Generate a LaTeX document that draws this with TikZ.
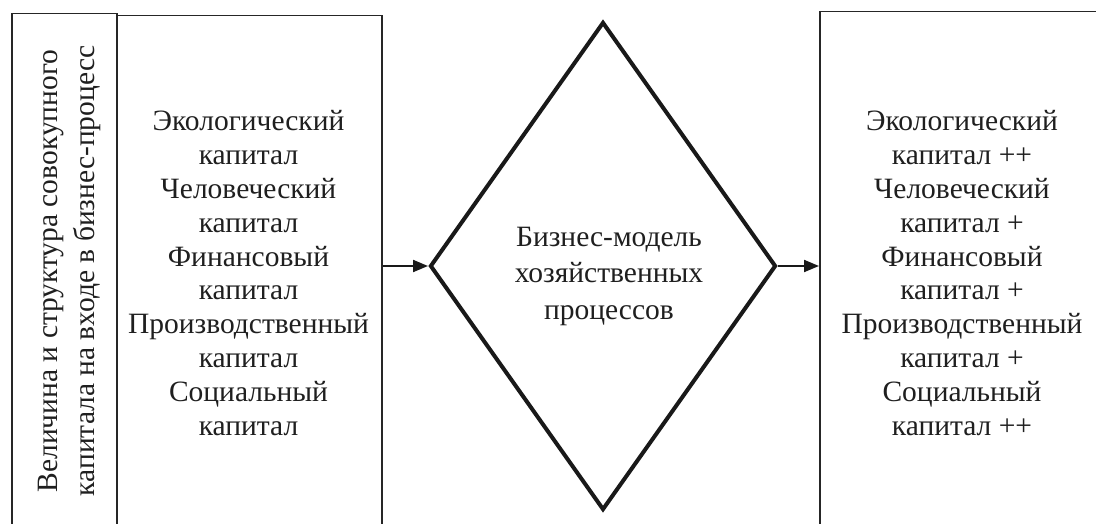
\documentclass[tikz,border=0pt]{standalone}
\usepackage{fontspec}
\setmainfont{Liberation Serif}
\usetikzlibrary{shapes.geometric,arrows.meta}
\begin{document}
\begin{tikzpicture}[x=1pt,y=-1pt,
  box/.style={draw=black!85, line width=1.5pt, rectangle, inner sep=0pt, anchor=north west},
  txt/.style={font=\fontsize{29.5}{33.9}\selectfont, align=center, inner sep=0pt, text=black!88},
  link/.style={line width=2pt, draw=black!90, -{Triangle[length=15pt,width=12pt]}},
]
\useasboundingbox (0,0) rectangle (1096,524);
\fill[white] (0,0) rectangle (1096,524);
\begin{scope}
\clip (0,0) rectangle (1096,524);
\node[box, minimum width=105pt, minimum height=540pt] (side) at (11,13) {};
\node[box, minimum width=265pt, minimum height=540pt] (inbox) at (116,15) {};
\node[box, minimum width=320pt, minimum height=540pt] (outbox) at (819,11) {};
\end{scope}
\node[txt, rotate=90, font=\fontsize{29.5}{37}\selectfont] (sidetxt) at (69.5,271)
  {Величина и структура совокупного\\капитала на входе в бизнес-процесс};
\node[txt] (intxt) at (248.5,273)
  {Экологический\\капитал\\Человеческий\\капитал\\Финансовый\\капитал\\Производственный\\капитал\\Социальный\\капитал};
\node[diamond, draw=black!90, line width=4pt, minimum width=346pt, minimum height=488pt, inner sep=0pt] (biz) at (603,266) {};
\node[txt, font=\fontsize{29.5}{36.5}\selectfont] (biztxt) at (609,276)
  {Бизнес-модель\\хозяйственных\\процессов};
\node[txt] (outtxt) at (962,273)
  {Экологический\\капитал ++\\Человеческий\\капитал +\\Финансовый\\капитал +\\Производственный\\капитал +\\Социальный\\капитал ++};
\draw[link] (inbox.east |- biz.west) -- (biz.west);
\draw[link] (biz.east) -- (biz.east -| outbox.west);
\end{tikzpicture}
\end{document}
